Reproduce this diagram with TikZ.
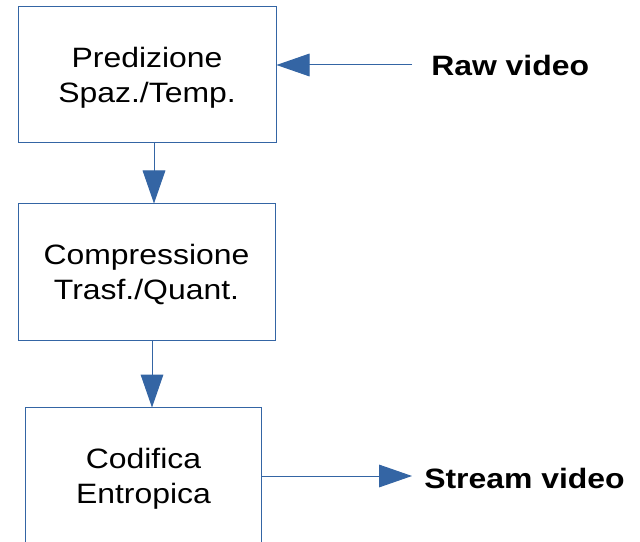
\documentclass[tikz,border=0pt]{standalone}
\usepackage{fontspec}
\setmainfont[FakeStretch=1.14]{Liberation Sans}
\usetikzlibrary{arrows.meta}
\definecolor{lnblue}{HTML}{3465A4}
\begin{document}
\begin{tikzpicture}[x=0.75pt,y=-0.75pt,
  blockbox/.style={draw=lnblue, line width=0.75pt, inner sep=0pt, align=center,
    minimum height=102pt, text height=41.25pt, text depth=0pt,
    font=\fontsize{21}{26.25}\selectfont},
  openbox/.style={blockbox, draw=none},
  labeltext/.style={inner sep=0pt, anchor=west, font=\fontsize{21}{26.25}\selectfont\bfseries},
  flowarrow/.style={draw=lnblue, line width=0.75pt, -{Triangle[length=24.75pt,width=17pt]}}]
\fill[white] (0,0) rectangle (640,542);
\useasboundingbox (0,0) rectangle (640,542);
\node[blockbox, minimum width=193.5pt] (pred) at (147,75) {Predizione\\Spaz./Temp.};
\node[blockbox, minimum width=192.75pt] (comp) at (146.5,272) {Compressione\\Trasf./Quant.};
\node[openbox, minimum width=176.25pt] (codif) at (143.5,476) {Codifica\\Entropica};
\draw[draw=lnblue, line width=0.75pt] (codif.south west) -- (codif.north west) -- (codif.north east) -- (codif.south east);
\node[labeltext] (raw) at (431,65) {Raw video};
\node[labeltext] (stream) at (424,478) {Stream video};
\draw[flowarrow] ([xshift=-14.25pt]raw.west) -- (pred.east |- raw.west);
\draw[flowarrow] ([xshift=5.25pt]pred.south) -- ([xshift=5.625pt]comp.north);
\draw[flowarrow] ([xshift=4.125pt]comp.south) -- ([xshift=6.375pt]codif.north);
\draw[flowarrow] ([yshift=1.5pt]codif.east |- stream.west) -- ([xshift=-9pt,yshift=1.5pt]stream.west);
\end{tikzpicture}
\end{document}
